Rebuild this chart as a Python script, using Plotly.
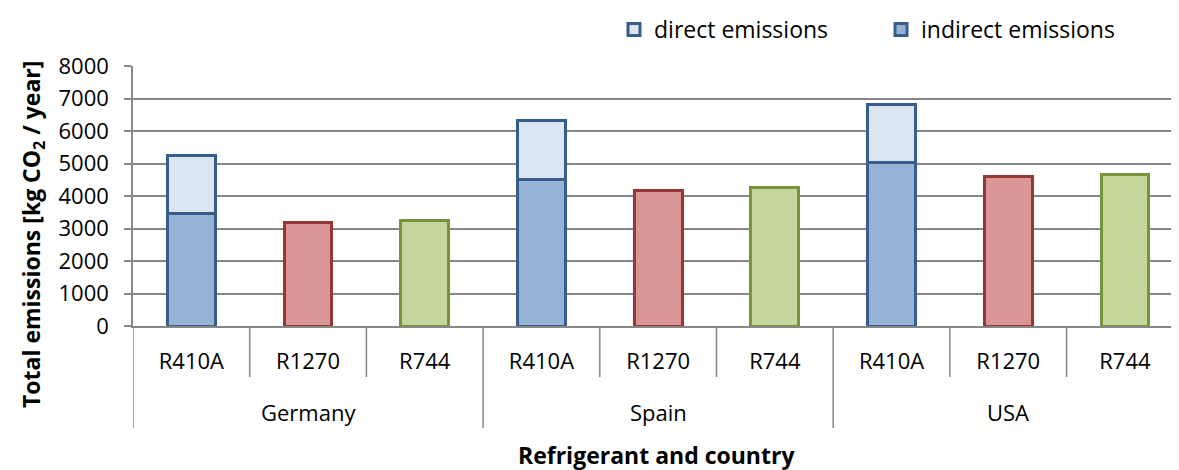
import plotly.graph_objects as go

countries = ["Germany", "Spain", "USA"]
refrigerants = ["R410A", "R1270", "R744", "R410A", "R1270", "R744", "R410A", "R1270", "R744"]
indirect = [3450, 3190, 3240, 4510, 4160, 4270, 5040, 4615, 4665]
direct = [1790, None, None, 1810, None, None, 1790, None, None]
y_ticks = [0, 1000, 2000, 3000, 4000, 5000, 6000, 7000, 8000]

fill_map = {"R410A": "#95B3D7", "R1270": "#D99694", "R744": "#C3D69B"}
line_map = {"R410A": "#385D8A", "R1270": "#953735", "R744": "#77933C"}

font = "'Open Sans', sans-serif"
grid = "#878787"
pos = list(range(len(refrigerants)))

# page body has an 8px margin; figure is sized to fill the rest
W, H = 1171, 462
L, T, B = 125, 58, 144
plot_w = W - L
plot_h = H - T - B
axis_y = T + plot_h  # figure px of the x axis


def py(fig_px):
    """figure pixel row -> paper y"""
    return (axis_y - fig_px) / plot_h


fig = go.Figure()
fig.add_trace(go.Bar(
    x=pos, y=indirect, name="indirect emissions",
    marker=dict(color=[fill_map[r] for r in refrigerants],
                line=dict(color=[line_map[r] for r in refrigerants], width=3)),
    legendrank=2, width=0.41,
))
fig.add_trace(go.Bar(
    x=pos, y=direct, name="direct emissions",
    marker=dict(color="#DCE6F2", line=dict(color="#385D8A", width=3)),
    legendrank=1, width=0.41,
))

# category dividers: short between refrigerants, long between countries
n_per = 3
short_end = py(axis_y + 51)
long_end = py(axis_y + 102)
for i in range(len(refrigerants) + 1):
    xb = i - 0.5
    is_group = (i % n_per == 0)
    fig.add_shape(type="line", xref="x", yref="paper", x0=xb, x1=xb, y0=0,
                  y1=long_end if is_group else short_end,
                  line=dict(color=grid, width=1.5), layer="below")

for g, c in enumerate(countries):
    fig.add_annotation(x=g * n_per + (n_per - 1) / 2, xref="x", y=py(axis_y + 86), yref="paper",
                       text=c, showarrow=False, font=dict(size=22, family=font),
                       yanchor="middle")

fig.add_annotation(x=0.5, xref="paper", y=py(axis_y + 129), yref="paper",
                   text="<b>Refrigerant and country</b>", showarrow=False,
                   font=dict(size=23, family=font), yanchor="middle")
fig.add_annotation(x=(24 - L) / plot_w, xref="paper", y=py(227), yref="paper",
                   text="<b>Total emissions [kg CO<sub>2</sub> / year]</b>", showarrow=False,
                   textangle=-90, font=dict(size=23, family=font), xanchor="center", yanchor="middle")

fig.update_layout(
    barmode="stack",
    width=W, height=H,
    margin=dict(l=L, r=0, t=T, b=B, autoexpand=False),
    plot_bgcolor="white", paper_bgcolor="white",
    font=dict(family=font, size=22, color="black"),
    showlegend=True,
    legend=dict(orientation="h", x=(606 - L) / plot_w, y=1, yref="container",
                xanchor="left", yanchor="top",
                font=dict(size=23), traceorder="normal",
                entrywidth=222, entrywidthmode="pixels",
                bgcolor="rgba(0,0,0,0)"),
)
fig.update_yaxes(
    range=[0, 8000], tickvals=y_ticks, showgrid=True, gridcolor=grid, gridwidth=1.5,
    ticks="outside", ticklen=7, tickcolor=grid, tickwidth=1.5, ticklabelstandoff=11,
    showline=True, linecolor=grid, linewidth=1.5, zeroline=False,
    tickfont=dict(size=22),
)
fig.update_xaxes(
    range=[-0.5, -0.5 + plot_w / 116.7], tickvals=pos, ticktext=refrigerants,
    showline=True, linecolor=grid, linewidth=1.5, showgrid=False, zeroline=False,
    ticks="", ticklabelstandoff=15, tickfont=dict(size=22),
)

fig.write_html("out.html")
